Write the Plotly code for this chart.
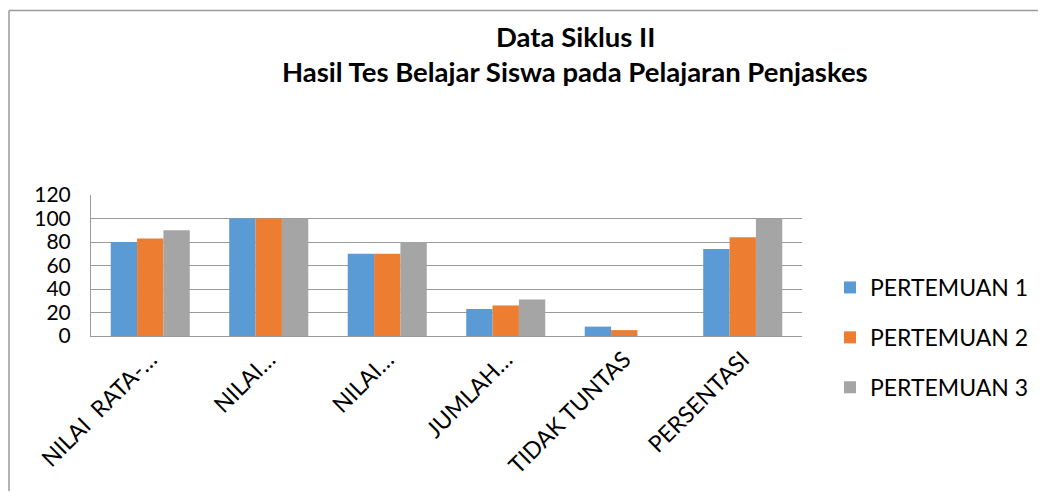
import plotly.graph_objects as go

categories = ["NILAI  RATA-…", "NILAI…", "NILAI…", "JUMLAH…", "TIDAK TUNTAS", "PERSENTASI"]
pertemuan_1 = [80, 100, 70, 23, 8, 74]
pertemuan_2 = [83, 100, 70, 26, 5, 84]
pertemuan_3 = [90, 100, 80, 31, 0, 100]
series_names = ["PERTEMUAN 1", "PERTEMUAN 2", "PERTEMUAN 3"]
colors = ["#5B9BD5", "#ED7D31", "#A5A5A5"]
y_ticks = [0, 20, 40, 60, 80, 100, 120]

FONT = "Lato"
OFF = 8  # default page body margin
W, H = 1046 - 2 * OFF, 499 - 2 * OFF
# plot area in page pixels: x 91..802, y 195..336
L = 91 - OFF
T = 195 - OFF
R = (1046 - OFF) - 802
B = (499 - OFF) - 336
pw = W - L - R
ph = H - T - B


def px_x(v):  # page pixel -> paper x
    return (v - OFF - L) / pw


def px_y(v):  # page pixel -> paper y
    return (H - B - (v - OFF)) / ph


fig = go.Figure()
for name, vals, c in zip(series_names, [pertemuan_1, pertemuan_2, pertemuan_3], colors):
    fig.add_trace(go.Bar(
        x=list(range(len(categories))), y=vals, name=name, marker_color=c,
        marker_line_width=0, legendgroup=name,
    ))

fig.update_layout(
    width=W, height=H,
    margin=dict(l=L, r=R, t=T, b=B, autoexpand=False),
    paper_bgcolor="white", plot_bgcolor="white",
    barmode="group", bargap=0.333, bargroupgap=0,
    font=dict(family=FONT, color="black"),
    showlegend=True,
    legend=dict(
        x=px_x(830), xanchor="left",
        y=px_y(266), yanchor="top",
        font=dict(family=FONT, size=23, color="black"),
        tracegroupgap=17, itemwidth=30, maxheight=400,
        bgcolor="rgba(0,0,0,0)",
    ),
    xaxis=dict(
        tickmode="array", tickvals=list(range(len(categories))), ticktext=categories,
        tickangle=-45, range=[-0.5, len(categories) - 0.5],
        showgrid=False, showline=True, linecolor="#9a9a9a", linewidth=1,
        ticks="", tickfont=dict(family=FONT, size=23, color="black"),
    ),
    yaxis=dict(
        range=[0, 120], tickmode="array", tickvals=y_ticks,
        showgrid=True, gridcolor="#9a9a9a", gridwidth=1,
        showline=True, linecolor="#9a9a9a", linewidth=1,
        ticks="", tickfont=dict(family=FONT, size=21, color="black"),
        ticklabelstandoff=15,
        zeroline=False,
    ),
)

fig.add_annotation(text="<b>Data Siklus II</b>", xref="paper", yref="paper",
                   x=px_x(575), y=px_y(36), xanchor="center", yanchor="middle",
                   showarrow=False, font=dict(family=FONT, size=27.5, color="black"))
fig.add_annotation(text="<b>Hasil Tes Belajar Siswa pada Pelajaran Penjaskes</b>",
                   xref="paper", yref="paper",
                   x=px_x(575), y=px_y(71), xanchor="center", yanchor="middle",
                   showarrow=False, font=dict(family=FONT, size=27.5, color="black"))

# chart border (partial frame as in reference)
fig.add_shape(type="line", xref="paper", yref="paper",
              x0=px_x(9), x1=px_x(1060), y0=px_y(10.5), y1=px_y(10.5),
              line=dict(color="#9a9a9a", width=1.5))
fig.add_shape(type="line", xref="paper", yref="paper",
              x0=px_x(9), x1=px_x(9), y0=px_y(10.5), y1=px_y(510),
              line=dict(color="#9a9a9a", width=1.5))

fig.write_html("out.html")
